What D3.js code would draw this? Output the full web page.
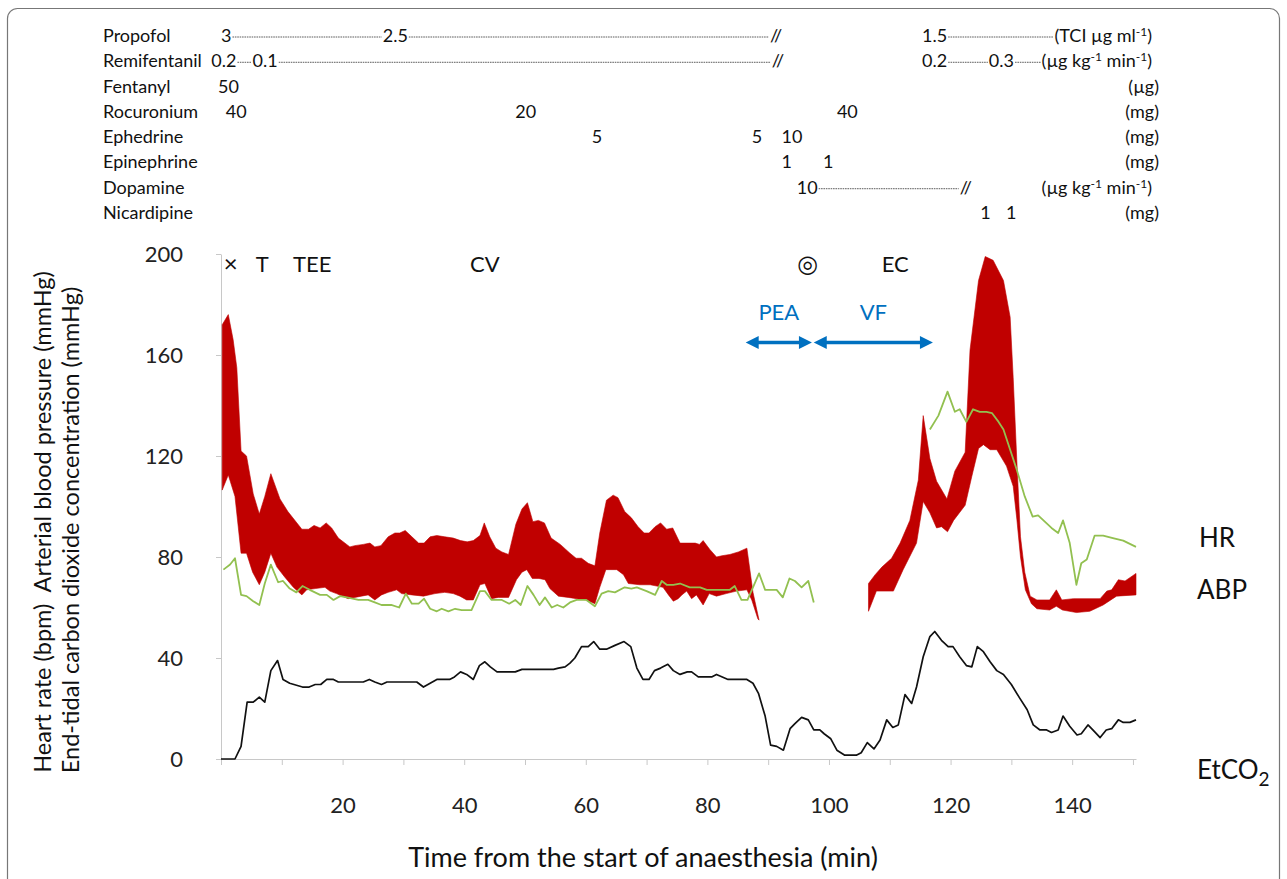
<!DOCTYPE html>
<html>
<head>
<meta charset="utf-8">
<style>
  body { margin: 0; background: #fff; }
</style>
</head>
<body>
<script src="https://cdn.jsdelivr.net/npm/d3@7"></script>
<script>
// ---- data ----
// arterial blood pressure band, [time (min), mmHg]
var sys1 = [[0.2,172],[1.2,176],[2,166],[2.6,155],[3.3,122],[4.2,120],[5.3,105],[6.3,97],[7.2,104],[8.2,113],[9.7,103],[11,98],[13.3,91],[14.4,91],[15.3,92.5],[16.3,91.5],[17.3,93.5],[18.2,91.5],[19.3,87.5],[21.2,84],[22,84.5],[23.4,85],[24.5,85.5],[25.3,84],[26.3,84.5],[27.5,88],[28.6,89.5],[29.4,89.5],[30.3,90.5],[31.4,88],[32.5,85.5],[33.4,85.5],[34.4,88],[35.5,88.5],[36.8,88],[38.2,87.5],[39.4,86.5],[40.5,86],[41.5,86.5],[42.6,88.5],[43.3,93.5],[44.2,88],[45.2,83.5],[46.2,82],[47.3,81],[48.5,93],[49.5,99],[50.4,101.5],[51.3,94],[52.2,94.5],[53.2,93.5],[54.3,87.5],[55.8,85],[57.4,81.5],[58.4,79.5],[59.3,79.5],[60.4,77.5],[61.5,76.5],[62.3,89.5],[63.4,102.5],[64.5,104.5],[65.3,103.5],[66.4,98],[67.5,95.5],[68.6,92],[69.6,89.5],[70.4,89.5],[71.4,92],[72.3,93.5],[73.3,91],[74.3,91.5],[75.5,85.5],[78,85.5],[78.7,85],[79.3,86.5],[80.4,83],[81.5,80],[82.4,80.5],[83.7,81],[85.1,82],[86.5,83.5],[87.5,66],[88.5,55]];
var dia1 = [[0.2,106.5],[1.2,112.5],[2.3,104],[3.3,81.5],[4.2,81.5],[5.2,74],[6.3,69],[7.2,74],[8.2,81.5],[9.2,76],[10.5,72],[11.9,68],[13.3,65],[14.1,67],[15.5,67.5],[17.1,68],[17.9,66.5],[19,65.5],[20.9,63.5],[22,64],[23.1,64.5],[24.2,65],[25.3,63],[26.4,65],[27.5,66],[28.9,67],[29.7,65.5],[31.4,65],[33.3,64.5],[35.2,65.5],[36.8,66],[38.2,65.5],[39.3,64.5],[40.4,63],[41.5,63],[42.6,69],[43.4,69.5],[44.5,63.5],[45.6,64],[47.3,64],[48.6,71],[49.5,74],[50.3,75],[51.2,71.5],[52.3,71.5],[53.3,71],[54.1,67.5],[55.5,64.5],[57.1,64],[58.5,63.5],[60.1,63],[61.5,61.5],[62.3,68],[63.3,75],[65.1,75],[66.2,73],[67,69.5],[68.9,69],[70.6,69],[72.7,68],[73.6,65],[74.4,62.5],[75.2,63.5],[75.8,65],[76.6,66.5],[77.4,63.5],[78.2,65],[79.3,61],[80.3,65.5],[81.5,64.5],[83.1,65.5],[84.8,66.5],[86.5,67],[87.3,63],[88.3,55.5]];
var sys2 = [[106.5,69.5],[107.6,73],[108.7,76],[110.3,79.5],[111.7,85.5],[113.3,94.5],[114.7,110.5],[115.5,136],[116.6,119],[117.7,110],[119.4,103],[120.7,114],[122.4,121.5],[123.2,162],[124.6,189.5],[125.7,199],[127,197.5],[128.7,189.5],[129.8,175],[130.3,151],[130.9,118],[131.5,88],[132.2,74],[133.1,64.5],[134.2,63],[136.3,63],[137.4,67],[138.3,63],[140.2,63.5],[144.6,63.5],[145.7,66.5],[146.5,67],[147.6,71],[148.7,70.5],[150.5,73.5]];
var dia2 = [[106.5,58.5],[107.8,66.5],[110.6,66.5],[112.2,75],[114.4,85.5],[115.5,102],[116.6,97.5],[117.7,91.5],[118.5,92],[119.5,90],[120.5,94.5],[122.4,100.5],[123.5,112],[124.6,123],[125.4,124.5],[126.5,122.5],[127.6,122.5],[129.2,116],[130.3,108],[130.9,95],[131.5,80],[132.3,67],[133.3,61.5],[134.2,59.5],[136.3,59],[137.4,60.5],[138.4,59],[140.7,58],[142.9,58.5],[145.1,61],[147.3,64.5],[150.5,65]];

// heart rate, [time, bpm]
var hr1 = [[0.4,75],[1.5,77],[2.3,79.5],[3.3,65],[4.2,64.5],[5.3,62.5],[6.3,61],[7.2,69.5],[8.2,77],[9.4,70],[10.2,70.5],[11.3,67.5],[12.4,66],[13.4,68.5],[14.6,67],[16.3,65],[17.4,65],[18.5,63],[19.6,64.5],[20.7,64],[22.6,63],[24.2,63],[25.3,62],[26.4,61],[28,61],[29.3,60],[30.4,65.5],[31.4,61.5],[32.5,61.5],[33.4,63.5],[34.4,59.5],[35.5,58.5],[36.3,59.5],[37.4,58.5],[38.5,59.5],[39.6,59],[41.2,59],[42.6,66.5],[43.4,66.5],[44.5,63],[46.2,63],[47.4,61.5],[48.4,63],[49.3,61],[50.4,68.5],[51.4,65],[52.4,61],[53.3,64],[54.4,60],[55.3,61],[56.3,60],[57.4,62],[58.5,63],[60.1,63],[61.5,60.5],[62.6,65.5],[63.7,66.5],[64.8,66],[66.4,68],[67.5,67.5],[68.4,68],[70,66.5],[71.4,65],[72.5,70.5],[73.3,69],[74.4,69],[75.5,69.5],[77.1,68],[78.8,68],[79.9,67],[83.7,67],[84.5,68.5],[85.6,63],[86.6,63],[87.5,68],[88.5,73.5],[89.5,67],[91.4,67],[92.4,64],[93.5,71.5],[94.4,70.5],[95.5,68],[96.6,70.5],[97.5,62]];
var hr2 = [[116.6,130.5],[118,136],[119.5,145.5],[120.7,137.5],[121.5,138.5],[122.6,133.5],[123.7,138.5],[124.8,137.5],[125.9,137.5],[126.8,137],[127.9,133.5],[128.7,130.5],[129.8,122.5],[130.9,114.5],[132.2,104],[133.5,96],[134.4,96.5],[135.5,94],[136.6,91.5],[137.7,89.5],[138.5,94.5],[139.6,85.5],[140.7,69],[141.5,77.5],[142.4,79],[143.7,88.5],[145.1,88.5],[146.7,87.5],[148.4,86.5],[150.5,84]];

// end-tidal CO2, [time, mmHg]
var etco2 = [[0,0],[2.3,0],[3.3,5],[4.3,22.5],[5.3,22.5],[6.3,24.5],[7.2,22.5],[8.2,35],[9.3,39],[10.2,31.5],[11.3,30],[13.4,28.5],[14.5,28.5],[15.5,29.5],[16.4,29.5],[17.4,31.5],[18.5,31.5],[19.3,30.5],[23.4,30.5],[24.4,31.5],[25.3,30.5],[26.4,29.5],[27.3,30.5],[32.2,30.5],[33.3,28.5],[34.4,30],[35.5,31.5],[37.6,31.5],[38.4,32.5],[39.4,34.5],[40.4,33.5],[41.5,31.5],[42.5,37],[43.4,38.5],[44.3,36.5],[45.4,34.5],[48.4,34.5],[49.5,35.5],[54.7,35.5],[55.5,36],[56.6,36.5],[57.4,38],[58.2,40],[59.3,44.5],[60.4,44.5],[61.3,46.5],[62.3,43.5],[63.4,43.5],[64.8,45],[66.3,46.5],[67.4,44.5],[68.4,36],[69.4,31.5],[70.4,31.5],[71.3,35],[72.3,36],[73.5,37.5],[74.4,35],[75.5,33.5],[76.7,34.5],[77.4,34.5],[78.5,32.5],[80.7,32.5],[81.5,33.5],[83.4,31.5],[86.5,31.5],[87.5,30],[88.4,26],[89.5,17],[90.4,5.5],[91.4,5],[92.5,3.5],[93.6,12],[94.4,14],[95.5,16.5],[96.6,15.5],[97.5,11.5],[98.5,11.5],[99.2,10],[100.3,8],[101.3,3.5],[102.6,1.5],[104.5,1.5],[105.3,2.5],[106.3,6.5],[107.4,4],[108.4,7.5],[109.5,15.5],[110.5,12.5],[111.4,13.5],[112.5,25.5],[113.6,22],[114.4,28.5],[115.5,40.5],[116.6,48.5],[117.4,50.5],[118.5,47],[119.6,44.5],[120.4,44.5],[121.5,40.5],[122.6,37],[123.5,36.5],[124.4,44.5],[125.4,42.5],[126.5,38.5],[127.6,35],[128.7,33.5],[130,29.5],[131.4,24],[132.6,19.5],[133.6,13.5],[134.7,11.5],[135.8,11.5],[136.6,10.5],[137.7,11.5],[138.5,17],[139.6,13],[140.8,9.5],[141.5,10],[142.6,13.5],[143.4,11.5],[144.6,8.5],[145.6,11.5],[146.5,12],[147.6,15.5],[148.4,14.5],[149.5,14.5],[150.5,15.5]];

var yTicks = [0, 40, 80, 120, 160, 200];
var xTicks = d3.range(0, 151, 10);
var xLabels = [20, 40, 60, 80, 100, 120, 140];

// events along the top of the plot: [time, label]
var events = [[1.6,"×"],[6.8,"T"],[15,"TEE"],[43.4,"CV"],[96.5,"◎"],[110.9,"EC"]];
// rhythm periods: [start, end, label]
var rhythms = [[86.3,97.2,"PEA"],[97.5,117.1,"VF"]];

// drug chart: [time of label, text, infusion continues]
var drugNames = ["Propofol","Remifentanil","Fentanyl","Rocuronium","Ephedrine","Epinephrine","Dopamine","Nicardipine"];
var drugUnits = [["(TCI µg ml","-1",")"],["(µg kg","-1"," min","-1",")"],["(µg)"],["(mg)"],["(mg)"],["(mg)"],["(µg kg","-1"," min","-1",")"],["(mg)"]];
var drugDoses = [
  [[0,"3",true],[26.6,"2.5",true],[90.3,"//",false],[115.3,"1.5",true]],
  [[-1.6,"0.2",true],[5.2,"0.1",true],[90.6,"//",false],[115.3,"0.2",true],[126.3,"0.3",true]],
  [[-0.5,"50",false]],
  [[0.8,"40",false],[48.4,"20",false],[101.3,"40",false]],
  [[61,"5",false],[87.3,"5",false],[92.2,"10",false]],
  [[92.2,"1",false],[99,"1",false]],
  [[94.7,"10",true],[121.5,"//",false]],
  [[124.9,"1",false],[129.1,"1",false]]
];

var FONT = "Lato, 'Open Sans', sans-serif";
var W = 1287, H = 879;

var svg = d3.select("body").append("svg")
  .attr("width", W).attr("height", H)
  .style("font-family", FONT);

// frame
svg.append("rect")
  .attr("x", 7.5).attr("y", 8.5)
  .attr("width", 1272).attr("height", 900)
  .attr("rx", 10)
  .style("fill", "none").style("stroke", "#777").style("stroke-width", 1.2);

var x = d3.scaleLinear().domain([0, 150.5]).range([221, 1136]);
var y = d3.scaleLinear().domain([0, 200]).range([759, 254]);

// axes
var gx = svg.append("g")
  .attr("transform", "translate(0,759)")
  .call(d3.axisBottom(x).tickValues(xTicks).tickSize(6).tickSizeOuter(0).tickPadding(32)
    .tickFormat(function(d){ return xLabels.indexOf(d) >= 0 ? d : ""; }))
  .attr("font-family", FONT).attr("font-size", 22);
gx.select(".domain").style("stroke", "#c8c8c8");
gx.selectAll(".tick line").style("stroke", "#c8c8c8");
gx.selectAll(".tick text").style("fill", "#222");

var gy = svg.append("g")
  .attr("transform", "translate(221,0)")
  .call(d3.axisLeft(y).tickValues(yTicks).tickSize(5).tickSizeOuter(0).tickPadding(33))
  .attr("font-family", FONT).attr("font-size", 22);
gy.select(".domain").style("stroke", "#c8c8c8");
gy.selectAll(".tick line").style("stroke", "#c8c8c8");
gy.selectAll(".tick text").style("fill", "#222");

// ABP band
var bandPath = d3.line().x(function(d){ return x(d[0]); }).y(function(d){ return y(d[1]); })
  .curve(d3.curveLinearClosed);
[[sys1, dia1], [sys2, dia2]].forEach(function(s){
  svg.append("path")
    .attr("d", bandPath(s[0].concat(s[1].slice().reverse())))
    .style("fill", "#c00000").style("stroke", "#c00000").style("stroke-width", 0.6);
});

var linePath = d3.line().x(function(d){ return x(d[0]); }).y(function(d){ return y(d[1]); });
[hr1, hr2].forEach(function(s){
  svg.append("path").attr("d", linePath(s))
    .style("fill", "none").style("stroke", "#92c050").style("stroke-width", 1.8)
    .style("stroke-linejoin", "round");
});
svg.append("path").attr("d", linePath(etco2))
  .style("fill", "none").style("stroke", "#111").style("stroke-width", 1.7)
  .style("stroke-linejoin", "round");

// events
svg.selectAll(".ev").data(events).enter().append("text")
  .attr("x", function(d){ return x(d[0]); })
  .attr("y", 272)
  .attr("text-anchor", "middle")
  .style("font-size", function(d){ return d[1] === "◎" ? "24px" : d[1] === "×" ? "24px" : "22px"; })
  .style("font-family", function(d){ return d[1] === "◎" ? "'DejaVu Sans'" : FONT; })
  .style("fill", "#111")
  .text(function(d){ return d[1]; });

// rhythm arrows
var blue = "#0070c0";
var ay = y(165);
rhythms.forEach(function(r){
  var x0 = x(r[0]), x1 = x(r[1]), hl = 13, hw = 6.5;
  svg.append("line").attr("x1", x0 + hl - 1).attr("x2", x1 - hl + 1)
    .attr("y1", ay).attr("y2", ay)
    .style("stroke", blue).style("stroke-width", 3.5);
  svg.append("path")
    .attr("d", "M" + x0 + "," + ay + " L" + (x0 + hl) + "," + (ay - hw) + " L" + (x0 + hl) + "," + (ay + hw) + " Z")
    .style("fill", blue);
  svg.append("path")
    .attr("d", "M" + x1 + "," + ay + " L" + (x1 - hl) + "," + (ay - hw) + " L" + (x1 - hl) + "," + (ay + hw) + " Z")
    .style("fill", blue);
  svg.append("text")
    .attr("x", (x0 + x1) / 2).attr("y", 320)
    .attr("text-anchor", "middle")
    .style("font-size", "22px").style("fill", blue)
    .text(r[2]);
});

// series labels on the right
svg.append("text").attr("x", 1199).attr("y", 547).style("font-size", "26px").style("fill", "#111").text("HR");
svg.append("text").attr("x", 1197).attr("y", 599).style("font-size", "26px").style("fill", "#111").text("ABP");
var et = svg.append("text").attr("x", 1197).attr("y", 779).style("font-size", "26px").style("fill", "#111");
et.append("tspan").text("EtCO");
et.append("tspan").attr("dy", 7).style("font-size", "19px").text("2");

// axis titles
svg.append("text")
  .attr("x", 643).attr("y", 867)
  .attr("text-anchor", "middle")
  .style("font-size", "27px").style("fill", "#111")
  .text("Time from the start of anaesthesia (min)");
svg.append("text")
  .attr("transform", "translate(51,522) rotate(-90)")
  .attr("text-anchor", "middle")
  .style("font-size", "23.5px").style("fill", "#111")
  .text("Heart rate (bpm)\u00a0 Arterial blood pressure (mmHg)");
svg.append("text")
  .attr("transform", "translate(79,530) rotate(-90)")
  .attr("text-anchor", "middle")
  .style("font-size", "23.5px").style("fill", "#111")
  .text("End-tidal carbon dioxide concentration (mmHg)");

// drug chart
var rowY = d3.scaleLinear().domain([0, 7]).range([42, 219]);
drugNames.forEach(function(name, i){
  var yy = rowY(i);
  var g = svg.append("g").style("font-size", "18px").style("fill", "#111");
  g.append("text").attr("x", 103).attr("y", yy).text(name);

  var uEnd = drugUnits[i].length > 1 ? 1152 : 1159;
  var u = g.append("text").attr("x", uEnd).attr("y", yy).attr("text-anchor", "end");
  var raised = false;
  drugUnits[i].forEach(function(part){
    var sup = part === "-1";
    u.append("tspan")
      .attr("dy", sup ? -6 : (raised ? 6 : 0))
      .style("font-size", sup ? "12px" : "18px")
      .text(part);
    raised = sup;
  });
  var uStart = u.node().getBBox().x;

  var nodes = drugDoses[i].map(function(d){
    return g.append("text").attr("x", x(d[0])).attr("y", yy).text(d[1]).node();
  });
  drugDoses[i].forEach(function(d, k){
    if (!d[2]) return;
    var bb = nodes[k].getBBox();
    var xEnd = k + 1 < nodes.length ? nodes[k + 1].getBBox().x : uStart;
    g.append("line")
      .attr("x1", bb.x + bb.width + 1).attr("x2", xEnd - 1)
      .attr("y1", yy - 5).attr("y2", yy - 5)
      .style("stroke", "#333").style("stroke-width", 0.8)
      .style("stroke-dasharray", "1.6,0.8");
  });
});
</script>
</body>
</html>
